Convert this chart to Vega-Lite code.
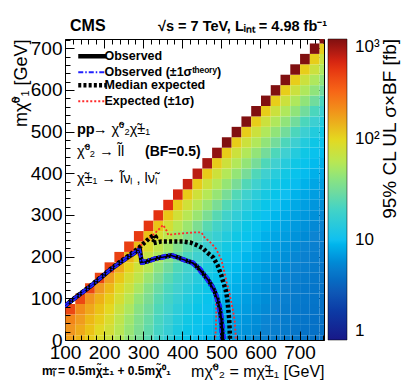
{
 "$schema": "https://vega.github.io/schema/vega-lite/v6.json",
 "width": 259,
 "height": 301,
 "autosize": "none",
 "padding": {"left": 65, "top": 39, "right": 83, "bottom": 51},
 "background": "white",
 "config": {"font": "Liberation Sans", "view": {"stroke": "black", "strokeWidth": 1}},
 "resolve": {"axis": {"x": "independent", "y": "independent"}},
 "layer": [
  {
   "data": {"values": "x,y,v\n100,-12.5,165\n100,12.5,185\n100,37.5,220\n100,62.5,420\n125,-12.5,140\n125,12.5,152\n125,37.5,172\n125,62.5,207\n125,87.5,420\n150,-12.5,110\n150,12.5,122\n150,37.5,134\n150,62.5,154\n150,87.5,189\n150,112.5,430\n175,-12.5,90\n175,12.5,98\n175,37.5,110\n175,62.5,122\n175,87.5,142\n175,112.5,177\n175,137.5,430\n200,-12.5,75\n200,12.5,80\n200,37.5,88\n200,62.5,100\n200,87.5,112\n200,112.5,132\n200,137.5,167\n200,162.5,440\n225,-12.5,56\n225,12.5,59\n225,37.5,64\n225,62.5,72\n225,87.5,84\n225,112.5,96\n225,137.5,116\n225,162.5,151\n225,187.5,450\n250,-12.5,43\n250,12.5,45\n250,37.5,48\n250,62.5,53\n250,87.5,61\n250,112.5,73\n250,137.5,85\n250,162.5,105\n250,187.5,140\n250,212.5,460\n275,-12.5,32.5\n275,12.5,34\n275,37.5,36\n275,62.5,39\n275,87.5,44\n275,112.5,52\n275,137.5,64\n275,162.5,76\n275,187.5,96\n275,212.5,131\n275,237.5,480\n300,-12.5,25.3\n300,12.5,26.5\n300,37.5,28\n300,62.5,30\n300,87.5,33\n300,112.5,38\n300,137.5,46\n300,162.5,58\n300,187.5,70\n300,212.5,90\n300,237.5,125\n300,262.5,500\n325,-12.5,19.4\n325,12.5,20.3\n325,37.5,21.5\n325,62.5,23\n325,87.5,25\n325,112.5,28\n325,137.5,33\n325,162.5,41\n325,187.5,53\n325,212.5,65\n325,237.5,85\n325,262.5,120\n325,287.5,520\n350,-12.5,15.6\n350,12.5,16.4\n350,37.5,17.3\n350,62.5,18.5\n350,87.5,20\n350,112.5,22\n350,137.5,25\n350,162.5,30\n350,187.5,38\n350,212.5,50\n350,237.5,62\n350,262.5,82\n350,287.5,117\n350,312.5,550\n375,-12.5,13\n375,12.5,13.6\n375,37.5,14.4\n375,62.5,15.3\n375,87.5,16.5\n375,112.5,18\n375,137.5,20\n375,162.5,23\n375,187.5,28\n375,212.5,36\n375,237.5,48\n375,262.5,60\n375,287.5,80\n375,312.5,115\n375,337.5,600\n400,-12.5,11.3\n400,12.5,11.8\n400,37.5,12.4\n400,62.5,13.2\n400,87.5,14.1\n400,112.5,15.3\n400,137.5,16.8\n400,162.5,18.8\n400,187.5,21.8\n400,212.5,26.8\n400,237.5,34.8\n400,262.5,46.8\n400,287.5,58.8\n400,312.5,78.8\n400,337.5,113.8\n400,362.5,650\n425,-12.5,10.1\n425,12.5,10.5\n425,37.5,11\n425,62.5,11.6\n425,87.5,12.4\n425,112.5,13.3\n425,137.5,14.5\n425,162.5,16\n425,187.5,18\n425,212.5,21\n425,237.5,26\n425,262.5,34\n425,287.5,46\n425,312.5,58\n425,337.5,78\n425,362.5,113\n425,387.5,700\n450,-12.5,9\n450,12.5,9.4\n450,37.5,9.8\n450,62.5,10.3\n450,87.5,10.9\n450,112.5,11.7\n450,137.5,12.6\n450,162.5,13.8\n450,187.5,15.3\n450,212.5,17.3\n450,237.5,20.3\n450,262.5,25.3\n450,287.5,33.3\n450,312.5,45.3\n450,337.5,57.3\n450,362.5,77.3\n450,387.5,112.3\n450,412.5,800\n475,-12.5,8.2\n475,12.5,8.5\n475,37.5,8.9\n475,62.5,9.3\n475,87.5,9.8\n475,112.5,10.4\n475,137.5,11.2\n475,162.5,12.1\n475,187.5,13.3\n475,212.5,14.8\n475,237.5,16.8\n475,262.5,19.8\n475,287.5,24.8\n475,312.5,32.8\n475,337.5,44.8\n475,362.5,56.8\n475,387.5,76.8\n475,412.5,111.8\n475,437.5,900\n500,-12.5,7.4\n500,12.5,7.7\n500,37.5,8\n500,62.5,8.4\n500,87.5,8.8\n500,112.5,9.3\n500,137.5,9.9\n500,162.5,10.7\n500,187.5,11.6\n500,212.5,12.8\n500,237.5,14.3\n500,262.5,16.3\n500,287.5,19.3\n500,312.5,24.3\n500,337.5,32.3\n500,362.5,44.3\n500,387.5,56.3\n500,412.5,76.3\n500,437.5,111.3\n500,462.5,1000\n525,-12.5,6.8\n525,12.5,7\n525,37.5,7.3\n525,62.5,7.6\n525,87.5,8\n525,112.5,8.4\n525,137.5,8.9\n525,162.5,9.5\n525,187.5,10.3\n525,212.5,11.2\n525,237.5,12.4\n525,262.5,13.9\n525,287.5,15.9\n525,312.5,18.9\n525,337.5,23.9\n525,362.5,31.9\n525,387.5,43.9\n525,412.5,55.9\n525,437.5,75.9\n525,462.5,110.9\n525,487.5,1000\n550,-12.5,6.3\n550,12.5,6.5\n550,37.5,6.7\n550,62.5,7\n550,87.5,7.3\n550,112.5,7.7\n550,137.5,8.1\n550,162.5,8.6\n550,187.5,9.2\n550,212.5,10\n550,237.5,10.9\n550,262.5,12.1\n550,287.5,13.6\n550,312.5,15.6\n550,337.5,18.6\n550,362.5,23.6\n550,387.5,31.6\n550,412.5,43.6\n550,437.5,55.6\n550,462.5,75.6\n550,487.5,110.6\n550,512.5,1000\n575,-12.5,5.8\n575,12.5,6\n575,37.5,6.2\n575,62.5,6.4\n575,87.5,6.7\n575,112.5,7\n575,137.5,7.4\n575,162.5,7.8\n575,187.5,8.3\n575,212.5,8.9\n575,237.5,9.7\n575,262.5,10.6\n575,287.5,11.8\n575,312.5,13.3\n575,337.5,15.3\n575,362.5,18.3\n575,387.5,23.3\n575,412.5,31.3\n575,437.5,43.3\n575,462.5,55.3\n575,487.5,75.3\n575,512.5,110.3\n575,537.5,1000\n600,-12.5,5.4\n600,12.5,5.5\n600,37.5,5.7\n600,62.5,5.9\n600,87.5,6.1\n600,112.5,6.4\n600,137.5,6.7\n600,162.5,7.1\n600,187.5,7.5\n600,212.5,8\n600,237.5,8.6\n600,262.5,9.4\n600,287.5,10.3\n600,312.5,11.5\n600,337.5,13\n600,362.5,15\n600,387.5,18\n600,412.5,23\n600,437.5,31\n600,462.5,43\n600,487.5,55\n600,512.5,75\n600,537.5,110\n600,562.5,1000\n625,-12.5,5.1\n625,12.5,5.2\n625,37.5,5.3\n625,62.5,5.5\n625,87.5,5.7\n625,112.5,5.9\n625,137.5,6.2\n625,162.5,6.5\n625,187.5,6.9\n625,212.5,7.3\n625,237.5,7.8\n625,262.5,8.4\n625,287.5,9.2\n625,312.5,10.1\n625,337.5,11.3\n625,362.5,12.8\n625,387.5,14.8\n625,412.5,17.8\n625,437.5,22.8\n625,462.5,30.8\n625,487.5,42.8\n625,512.5,54.8\n625,537.5,74.8\n625,562.5,109.8\n625,587.5,1000\n650,-12.5,4.8\n650,12.5,4.9\n650,37.5,5\n650,62.5,5.1\n650,87.5,5.3\n650,112.5,5.5\n650,137.5,5.7\n650,162.5,6\n650,187.5,6.3\n650,212.5,6.7\n650,237.5,7.1\n650,262.5,7.6\n650,287.5,8.2\n650,312.5,9\n650,337.5,9.9\n650,362.5,11.1\n650,387.5,12.6\n650,412.5,14.6\n650,437.5,17.6\n650,462.5,22.6\n650,487.5,30.6\n650,512.5,42.6\n650,537.5,54.6\n650,562.5,74.6\n650,587.5,109.6\n650,612.5,1000\n675,-12.5,4.5\n675,12.5,4.6\n675,37.5,4.7\n675,62.5,4.8\n675,87.5,4.9\n675,112.5,5.1\n675,137.5,5.3\n675,162.5,5.5\n675,187.5,5.8\n675,212.5,6.1\n675,237.5,6.5\n675,262.5,6.9\n675,287.5,7.4\n675,312.5,8\n675,337.5,8.8\n675,362.5,9.7\n675,387.5,10.9\n675,412.5,12.4\n675,437.5,14.4\n675,462.5,17.4\n675,487.5,22.4\n675,512.5,30.4\n675,537.5,42.4\n675,562.5,54.4\n675,587.5,74.4\n675,612.5,109.4\n675,637.5,1000\n700,-12.5,4.4\n700,12.5,4.4\n700,37.5,4.5\n700,62.5,4.6\n700,87.5,4.7\n700,112.5,4.8\n700,137.5,5\n700,162.5,5.2\n700,187.5,5.4\n700,212.5,5.7\n700,237.5,6\n700,262.5,6.4\n700,287.5,6.8\n700,312.5,7.3\n700,337.5,7.9\n700,362.5,8.7\n700,387.5,9.6\n700,412.5,10.8\n700,437.5,12.3\n700,462.5,14.3\n700,487.5,17.3\n700,512.5,22.3\n700,537.5,30.3\n700,562.5,42.3\n700,587.5,54.3\n700,612.5,74.3\n700,637.5,109.3\n700,662.5,1000\n725,-12.5,4.25\n725,12.5,4.3\n725,37.5,4.3\n725,62.5,4.4\n725,87.5,4.5\n725,112.5,4.6\n725,137.5,4.7\n725,162.5,4.9\n725,187.5,5.1\n725,212.5,5.3\n725,237.5,5.6\n725,262.5,5.9\n725,287.5,6.3\n725,312.5,6.7\n725,337.5,7.2\n725,362.5,7.8\n725,387.5,8.6\n725,412.5,9.5\n725,437.5,10.7\n725,462.5,12.2\n725,487.5,14.2\n725,512.5,17.2\n725,537.5,22.2\n725,562.5,30.2\n725,587.5,42.2\n725,612.5,54.2\n725,637.5,74.2\n725,662.5,109.2\n725,687.5,1000\n750,-12.5,4.1\n750,12.5,4.15\n750,37.5,4.2\n750,62.5,4.2\n750,87.5,4.3\n750,112.5,4.4\n750,137.5,4.5\n750,162.5,4.6\n750,187.5,4.8\n750,212.5,5\n750,237.5,5.2\n750,262.5,5.5\n750,287.5,5.8\n750,312.5,6.2\n750,337.5,6.6\n750,362.5,7.1\n750,387.5,7.7\n750,412.5,8.5\n750,437.5,9.4\n750,462.5,10.6\n750,487.5,12.1\n750,512.5,14.1\n750,537.5,17.1\n750,562.5,22.1\n750,587.5,30.1\n750,612.5,42.1\n750,637.5,54.1\n750,662.5,74.1\n750,687.5,109.1\n750,712.5,1000", "format": {"type": "csv", "parse": {"x": "number", "y": "number", "v": "number"}}},
   "mark": {"type": "rect", "clip": true},
   "encoding": {
    "x": {"field": "x", "type": "quantitative", "bin": {"binned": true, "step": 25},
     "scale": {"domain": [100, 762.5], "nice": false, "zero": false},
     "axis": {"orient": "bottom", "values": [100,120,140,160,180,200,220,240,260,280,300,320,340,360,380,400,420,440,460,480,500,520,540,560,580,600,620,640,660,680,700,720,740,760],
      "labelExpr": "datum.value % 100 === 0 ? datum.label : ''", "labelFont": "Liberation Sans", "labelFontSize": 19, "labelColor": "black", "labelPadding": 12, "labelOverlap": false, "labelFlush": false, "labelBound": false,
      "tickColor": "black", "tickWidth": 1, "tickSize": {"condition": {"test": "datum.value % 100 === 0", "value": -9}, "value": -5},
      "domain": false, "grid": false,
      "title": "mχ̃⁰₂ = mχ̃±₁ [GeV]", "titleFont": "Liberation Sans", "titleFontSize": 16, "titleFontWeight": "normal", "titleColor": "black", "titleAnchor": "end", "titleY": 36, "titleBaseline": "alphabetic"}},
    "y": {"field": "y", "type": "quantitative", "bin": {"binned": true, "step": 25},
     "scale": {"domain": [0, 722], "nice": false, "zero": false},
     "axis": {"orient": "left", "values": [0,20,40,60,80,100,120,140,160,180,200,220,240,260,280,300,320,340,360,380,400,420,440,460,480,500,520,540,560,580,600,620,640,660,680,700,720],
      "labelExpr": "datum.value % 100 === 0 ? datum.label : ''", "labelFont": "Liberation Sans", "labelFontSize": 19, "labelColor": "black", "labelPadding": 12, "labelOverlap": false, "labelFlush": false, "labelBound": false,
      "tickColor": "black", "tickWidth": 1, "tickSize": {"condition": {"test": "datum.value % 100 === 0", "value": -9}, "value": -5},
      "domain": false, "grid": false,
      "title": "mχ̃⁰₁ [GeV]", "titleFont": "Liberation Sans", "titleFontSize": 18, "titleFontWeight": "normal", "titleColor": "black", "titleAnchor": "end", "titleX": -39, "titleBaseline": "alphabetic"}},
    "fill": {"field": "v", "type": "quantitative",
     "scale": {"type": "log", "domain": [1, 1.78, 3.16, 5.62, 10, 17.8, 31.6, 56.2, 100, 178, 316, 562, 1000],
      "range": ["#181888", "#1034a0", "#105cb8", "#0c84d2", "#10c0f0", "#40d0d0", "#78dc98", "#b4e858", "#e4d820", "#f09820", "#f86018", "#e02810", "#801010"]},
     "legend": {"orient": "right", "offset": 3, "padding": 0, "direction": "vertical", "gradientLength": 301, "gradientThickness": 19, "gradientStrokeColor": "black", "gradientStrokeWidth": 0.5,
      "values": [1, 10, 100, 1000], "labelExpr": "datum.value === 1 ? '1' : datum.value === 10 ? '10' : datum.value === 100 ? '10²' : '10³'",
      "labelFont": "Liberation Sans", "labelFontSize": 17, "labelColor": "black", "labelOffset": 8, "labelBaseline": "middle", "labelOverlap": false,
      "title": null}}
   }
  },
  {
   "data": {"values": "s,c,o,x,y\nExpected (±1σ),eu,0,100,84\nExpected (±1σ),eu,1,164,130\nExpected (±1σ),eu,2,215,171\nExpected (±1σ),eu,3,265,206\nExpected (±1σ),eu,4,300,232\nExpected (±1σ),eu,5,330,256\nExpected (±1σ),eu,6,351,276\nExpected (±1σ),eu,7,360,262\nExpected (±1σ),eu,8,364,252\nExpected (±1σ),eu,9,380,254\nExpected (±1σ),eu,10,402,256\nExpected (±1σ),eu,11,430,258\nExpected (±1σ),eu,12,449,258\nExpected (±1σ),eu,13,457,246\nExpected (±1σ),eu,14,470,236\nExpected (±1σ),eu,15,487,218\nExpected (±1σ),eu,16,500,192\nExpected (±1σ),eu,17,506,170\nExpected (±1σ),eu,18,513,140\nExpected (±1σ),eu,19,519,120\nExpected (±1σ),eu,20,525,92\nExpected (±1σ),eu,21,530,70\nExpected (±1σ),eu,22,534,45\nExpected (±1σ),eu,23,536,20\nExpected (±1σ),eu,24,537,0\nExpected (±1σ),ed,0,100,80\nExpected (±1σ),ed,1,164,126\nExpected (±1σ),ed,2,215,166\nExpected (±1σ),ed,3,257,194\nExpected (±1σ),ed,4,285,210\nExpected (±1σ),ed,5,292,196\nExpected (±1σ),ed,6,296,184\nExpected (±1σ),ed,7,317,192\nExpected (±1σ),ed,8,340,197\nExpected (±1σ),ed,9,368,201\nExpected (±1σ),ed,10,390,196\nExpected (±1σ),ed,11,410,190\nExpected (±1σ),ed,12,430,183\nExpected (±1σ),ed,13,444,174\nExpected (±1σ),ed,14,461,152\nExpected (±1σ),ed,15,472,138\nExpected (±1σ),ed,16,479,126\nExpected (±1σ),ed,17,483,110\nExpected (±1σ),ed,18,486,90\nExpected (±1σ),ed,19,487,64\nExpected (±1σ),ed,20,486,30\nExpected (±1σ),ed,21,484,0\nMedian expected,em,0,100,83\nMedian expected,em,1,164,129\nMedian expected,em,2,215,169\nMedian expected,em,3,240,187\nMedian expected,em,4,265,204\nMedian expected,em,5,290,222\nMedian expected,em,6,305,235\nMedian expected,em,7,318,246\nMedian expected,em,8,328,252\nMedian expected,em,9,333,246\nMedian expected,em,10,324,232\nMedian expected,em,11,345,236\nMedian expected,em,12,370,236\nMedian expected,em,13,402,236\nMedian expected,em,14,420,234\nMedian expected,em,15,436,228\nMedian expected,em,16,453,220\nMedian expected,em,17,462,211\nMedian expected,em,18,479,198\nMedian expected,em,19,490,180\nMedian expected,em,20,500,155\nMedian expected,em,21,506,135\nMedian expected,em,22,511,120\nMedian expected,em,23,515,100\nMedian expected,em,24,517,80\nMedian expected,em,25,520,50\nMedian expected,em,26,521,30\nMedian expected,em,27,522,0\nObserved,ob,0,100,82\nObserved,ob,1,130,104\nObserved,ob,2,164,128\nObserved,ob,3,190,148\nObserved,ob,4,215,168\nObserved,ob,5,240,185\nObserved,ob,6,257,196\nObserved,ob,7,275,207\nObserved,ob,8,291,218\nObserved,ob,9,294,200\nObserved,ob,10,296,186\nObserved,ob,11,308,188\nObserved,ob,12,330,195\nObserved,ob,13,350,199\nObserved,ob,14,372,203\nObserved,ob,15,390,198\nObserved,ob,16,402,193\nObserved,ob,17,427,185\nObserved,ob,18,444,170\nObserved,ob,19,457,155\nObserved,ob,20,466,144\nObserved,ob,21,476,130\nObserved,ob,22,483,116\nObserved,ob,23,490,98\nObserved,ob,24,495,80\nObserved,ob,25,500,48\nObserved,ob,26,502,20\nObserved,ob,27,503,0\nObserved (±1σᵗʰᵉᵒʳʸ),ou,0,100,85\nObserved (±1σᵗʰᵉᵒʳʸ),ou,1,164,131\nObserved (±1σᵗʰᵉᵒʳʸ),ou,2,215,171\nObserved (±1σᵗʰᵉᵒʳʸ),ou,3,257,199\nObserved (±1σᵗʰᵉᵒʳʸ),ou,4,291,221\nObserved (±1σᵗʰᵉᵒʳʸ),ou,5,297,200\nObserved (±1σᵗʰᵉᵒʳʸ),ou,6,300,190\nObserved (±1σᵗʰᵉᵒʳʸ),ou,7,330,199\nObserved (±1σᵗʰᵉᵒʳʸ),ou,8,372,207\nObserved (±1σᵗʰᵉᵒʳʸ),ou,9,402,197\nObserved (±1σᵗʰᵉᵒʳʸ),ou,10,430,188\nObserved (±1σᵗʰᵉᵒʳʸ),ou,11,448,173\nObserved (±1σᵗʰᵉᵒʳʸ),ou,12,470,146\nObserved (±1σᵗʰᵉᵒʳʸ),ou,13,487,118\nObserved (±1σᵗʰᵉᵒʳʸ),ou,14,494,98\nObserved (±1σᵗʰᵉᵒʳʸ),ou,15,500,80\nObserved (±1σᵗʰᵉᵒʳʸ),ou,16,505,48\nObserved (±1σᵗʰᵉᵒʳʸ),ou,17,508,20\nObserved (±1σᵗʰᵉᵒʳʸ),ou,18,510,0\nObserved (±1σᵗʰᵉᵒʳʸ),od,0,100,79\nObserved (±1σᵗʰᵉᵒʳʸ),od,1,164,125\nObserved (±1σᵗʰᵉᵒʳʸ),od,2,215,165\nObserved (±1σᵗʰᵉᵒʳʸ),od,3,257,193\nObserved (±1σᵗʰᵉᵒʳʸ),od,4,289,213\nObserved (±1σᵗʰᵉᵒʳʸ),od,5,292,198\nObserved (±1σᵗʰᵉᵒʳʸ),od,6,294,182\nObserved (±1σᵗʰᵉᵒʳʸ),od,7,308,184\nObserved (±1σᵗʰᵉᵒʳʸ),od,8,330,191\nObserved (±1σᵗʰᵉᵒʳʸ),od,9,372,199\nObserved (±1σᵗʰᵉᵒʳʸ),od,10,402,189\nObserved (±1σᵗʰᵉᵒʳʸ),od,11,425,181\nObserved (±1σᵗʰᵉᵒʳʸ),od,12,440,167\nObserved (±1σᵗʰᵉᵒʳʸ),od,13,462,142\nObserved (±1σᵗʰᵉᵒʳʸ),od,14,479,114\nObserved (±1σᵗʰᵉᵒʳʸ),od,15,486,96\nObserved (±1σᵗʰᵉᵒʳʸ),od,16,490,80\nObserved (±1σᵗʰᵉᵒʳʸ),od,17,495,48\nObserved (±1σᵗʰᵉᵒʳʸ),od,18,497,20\nObserved (±1σᵗʰᵉᵒʳʸ),od,19,498,0", "format": {"type": "csv", "parse": {"o": "number", "x": "number", "y": "number"}}},
   "mark": {"type": "line", "clip": true, "strokeCap": "butt", "strokeJoin": "round"},
   "encoding": {
    "x": {"field": "x", "type": "quantitative",
     "axis": {"orient": "top", "values": [100,120,140,160,180,200,220,240,260,280,300,320,340,360,380,400,420,440,460,480,500,520,540,560,580,600,620,640,660,680,700,720,740,760],
      "labels": false, "tickColor": "black", "tickWidth": 1, "tickSize": {"condition": {"test": "datum.value % 100 === 0", "value": -9}, "value": -5}, "domain": false, "grid": false, "title": null}},
    "y": {"field": "y", "type": "quantitative",
     "axis": {"orient": "right", "values": [0,20,40,60,80,100,120,140,160,180,200,220,240,260,280,300,320,340,360,380,400,420,440,460,480,500,520,540,560,580,600,620,640,660,680,700,720],
      "labels": false, "tickColor": "black", "tickWidth": 1, "tickSize": {"condition": {"test": "datum.value % 100 === 0", "value": -9}, "value": -5}, "domain": false, "grid": false, "title": null}},
    "detail": {"field": "c", "type": "nominal"},
    "order": {"field": "o", "type": "quantitative"},
    "stroke": {"field": "s", "type": "nominal",
     "scale": {"domain": ["Observed", "Observed (±1σᵗʰᵉᵒʳʸ)", "Median expected", "Expected (±1σ)"], "range": ["black", "#2020ff", "black", "#ff2a2a"]},
     "legend": {"title": null, "orient": "none", "legendX": 21, "legendY": 11, "padding": 0, "symbolType": "stroke", "symbolSize": 784, "symbolStrokeWidth": 1.5,
      "labelFont": "Liberation Sans", "labelFontSize": 12.5, "labelFontWeight": "bold", "labelColor": "black", "labelOffset": 6, "labelLimit": 300, "rowPadding": -14.7,
      "encode": {"symbols": {"update": {"strokeWidth": {"signal": "datum.value === 'Observed' || datum.value === 'Median expected' ? 4.5 : 1.8"}}}}}},
    "strokeDash": {"field": "s", "type": "nominal",
     "scale": {"domain": ["Observed", "Observed (±1σᵗʰᵉᵒʳʸ)", "Median expected", "Expected (±1σ)"], "range": [[1, 0], [5, 2, 1.5, 2], [3, 2.2], [2, 2]]},
     "legend": {"title": null, "orient": "none", "legendX": 21, "legendY": 11, "padding": 0, "symbolType": "stroke", "symbolSize": 784, "symbolStrokeWidth": 1.5,
      "labelFont": "Liberation Sans", "labelFontSize": 12.5, "labelFontWeight": "bold", "labelColor": "black", "labelOffset": 6, "labelLimit": 300, "rowPadding": -14.7,
      "encode": {"symbols": {"update": {"strokeWidth": {"signal": "datum.value === 'Observed' || datum.value === 'Median expected' ? 4.5 : 1.8"}}}}}},
    "strokeWidth": {"condition": {"test": "datum.s === 'Observed' || datum.s === 'Median expected'", "value": 4.5}, "value": 1.8}
   }
  },
  {
   "data": {"values": [{}]},
   "mark": {"type": "text", "text": "95% CL UL σ×BF [fb]", "font": "Liberation Sans", "fontSize": 19, "angle": 270, "align": "right", "baseline": "alphabetic", "color": "black"},
   "encoding": {"x": {"datum": 946.7, "type": "quantitative", "axis": null}, "y": {"datum": 722, "type": "quantitative", "axis": null}}
  },
  {
   "data": {"values": [{}]},
   "mark": {"type": "text", "text": "CMS", "font": "Liberation Sans", "fontSize": 16, "fontWeight": "bold", "align": "left", "baseline": "alphabetic", "color": "black"},
   "encoding": {"x": {"datum": 112.8, "type": "quantitative", "axis": null}, "y": {"datum": 740, "type": "quantitative", "axis": null}}
  },
  {
   "data": {"values": [{}]},
   "mark": {"type": "text", "text": "√s = 7 TeV, Lᵢₙₜ = 4.98 fb⁻¹", "font": "Liberation Sans", "fontSize": 14.5, "fontWeight": "bold", "align": "left", "baseline": "alphabetic", "color": "black"},
   "encoding": {"x": {"datum": 338, "type": "quantitative", "axis": null}, "y": {"datum": 741, "type": "quantitative", "axis": null}}
  },
  {
   "data": {"values": [{}]},
   "mark": {"type": "text", "text": "pp", "font": "Liberation Sans", "fontSize": 14.5, "fontWeight": "bold", "align": "left", "baseline": "alphabetic", "color": "black"},
   "encoding": {"x": {"datum": 130.7, "type": "quantitative", "axis": null}, "y": {"datum": 493, "type": "quantitative", "axis": null}}
  },
  {
   "data": {"values": [{}]},
   "mark": {"type": "text", "text": "→ χ̃⁰₂χ̃±₁", "font": "Liberation Sans", "fontSize": 14.5, "align": "left", "baseline": "alphabetic", "color": "black"},
   "encoding": {"x": {"datum": 171.6, "type": "quantitative", "axis": null}, "y": {"datum": 493, "type": "quantitative", "axis": null}}
  },
  {
   "data": {"values": [{}]},
   "mark": {"type": "text", "text": "χ̃⁰₂ → l̃l", "font": "Liberation Sans", "fontSize": 14.5, "align": "left", "baseline": "alphabetic", "color": "black"},
   "encoding": {"x": {"datum": 130.7, "type": "quantitative", "axis": null}, "y": {"datum": 441, "type": "quantitative", "axis": null}}
  },
  {
   "data": {"values": [{}]},
   "mark": {"type": "text", "text": "(BF=0.5)", "font": "Liberation Sans", "fontSize": 14, "fontWeight": "bold", "align": "left", "baseline": "alphabetic", "color": "black"},
   "encoding": {"x": {"datum": 304.6, "type": "quantitative", "axis": null}, "y": {"datum": 441, "type": "quantitative", "axis": null}}
  },
  {
   "data": {"values": [{}]},
   "mark": {"type": "text", "text": "χ̃±₁ → l̃νₗ , lν̃ₗ", "font": "Liberation Sans", "fontSize": 14.5, "align": "left", "baseline": "alphabetic", "color": "black"},
   "encoding": {"x": {"datum": 130.7, "type": "quantitative", "axis": null}, "y": {"datum": 376, "type": "quantitative", "axis": null}}
  },
  {
   "data": {"values": [{}]},
   "mark": {"type": "text", "text": "mₗ̃ = 0.5mχ̃±₁ + 0.5mχ̃⁰₁", "font": "Liberation Sans", "fontSize": 12, "fontWeight": "bold", "align": "left", "baseline": "alphabetic", "color": "black"},
   "encoding": {"x": {"datum": 41.2, "type": "quantitative", "axis": null}, "y": {"datum": -84, "type": "quantitative", "axis": null}}
  }
 ]
}
